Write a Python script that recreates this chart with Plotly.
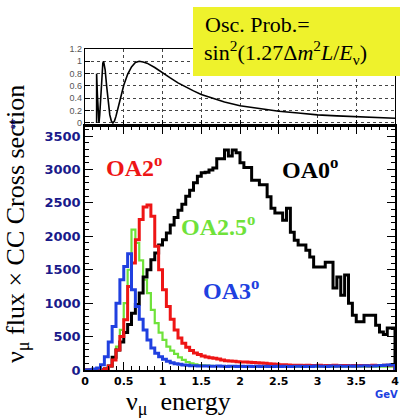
import plotly.graph_objects as go

# ---------------- data ----------------
bin_lo = [round(0.05 * i, 2) for i in range(80)]  # histogram bin lower edges (GeV)
x_max = 4.0

oa0 = [0, 0, 0, 0, 0, 15, 60, 190, 300, 420,
       560, 680, 850, 980, 1150, 1390, 1500, 1650, 1750, 1870,
       1950, 2050, 2170, 2280, 2390, 2480, 2600, 2690, 2800, 2900,
       2950, 2960, 2990, 3020, 3160, 3160, 3290, 3200, 3290, 3250,
       3100, 3030, 3030, 2840, 2840, 2770, 2770, 2590, 2420, 2350,
       2350, 2240, 2420, 2060, 1940, 1870, 1870, 1790, 1690, 1540,
       1540, 1540, 1610, 1610, 1225, 1390, 1120, 1420, 1000, 820,
       720, 720, 820, 820, 820, 670, 570, 530, 630, 630]

oa2 = [0, 0, 0, 0, 5, 20, 60, 150, 300, 500,
       750, 1250, 1600, 1950, 2250, 2440, 2470, 2300, 1850, 1500,
       1200, 950, 760, 600, 480, 400, 340, 290, 255, 230,
       210, 195, 185, 175, 165, 150, 140, 135, 130, 125,
       120, 118, 115, 112, 110, 105, 100, 95, 90, 85,
       80, 78, 75, 72, 70, 72, 68, 70, 66, 68,
       70, 65, 68, 66, 70, 64, 66, 68, 65, 67,
       64, 66, 68, 65, 70, 66, 68, 72, 70, 75]

oa25 = [0, 0, 0, 0, 5, 20, 60, 150, 350, 600,
        1000, 1500, 2100, 1900, 1640, 1350, 1150, 900, 700, 560,
        450, 350, 290, 240, 190, 150, 120, 100, 85, 75,
        68, 65, 62, 60, 58, 56, 55, 54, 54, 53,
        53, 52, 52, 52, 51, 51, 50, 50, 50, 50,
        50, 50, 50, 50, 50, 50, 50, 50, 50, 50,
        50, 50, 50, 50, 50, 50, 50, 50, 50, 50,
        50, 50, 50, 50, 50, 50, 50, 50, 50, 50]

oa3 = [0, 5, 15, 30, 80, 200, 420, 650, 1000, 1350,
       1550, 1740, 1200, 950, 760, 600, 450, 330, 250, 200,
       160, 130, 110, 95, 85, 75, 70, 65, 62, 60,
       58, 60, 57, 55, 58, 56, 54, 57, 55, 53,
       56, 54, 55, 52, 55, 53, 56, 54, 52, 55,
       53, 56, 54, 52, 55, 57, 53, 56, 54, 58,
       55, 57, 54, 58, 56, 60, 57, 55, 59, 57,
       60, 58, 62, 59, 61, 63, 66, 70, 75, 82]

osc_E = [0.150, 0.150, 0.160, 0.170, 0.180, 0.190, 0.200, 0.210, 0.220, 0.230,
         0.240, 0.260, 0.280, 0.300, 0.320, 0.340, 0.360, 0.380, 0.400, 0.450,
         0.500, 0.550, 0.600, 0.650, 0.700, 0.750, 0.800, 0.900, 1.000, 1.100,
         1.200, 1.300, 1.400, 1.500, 1.600, 1.800, 2.000, 2.250, 2.500, 2.750,
         3.000, 3.250, 3.500, 3.750, 4.000]
osc_P = [0.00, 0.80, 0.46, 0.10, 0.00, 0.13, 0.38, 0.64, 0.85, 0.97,
         1.00, 0.86, 0.59, 0.32, 0.13, 0.03, 0.00, 0.03, 0.11, 0.36,
         0.61, 0.79, 0.91, 0.98, 1.00, 0.99, 0.97, 0.90, 0.81, 0.73,
         0.65, 0.58, 0.52, 0.46, 0.42, 0.34, 0.28, 0.23, 0.19, 0.16,
         0.13, 0.115, 0.10, 0.087, 0.077]

x_ticks = [0, 0.5, 1, 1.5, 2, 2.5, 3, 3.5, 4]
x_ticktext = ["0", "0.5", "1", "1.5", "2", "2.5", "3", "3.5", "4"]
y_ticks = [0, 500, 1000, 1500, 2000, 2500, 3000, 3500]
p_ticks = [0, 0.2, 0.4, 0.6, 0.8, 1.0, 1.2]
p_ticktext = ["0", "0.2", "0.4", "0.6", "0.8", "1", "1.2"]

# ---------------- figure ----------------
def step(vals):
    return bin_lo + [x_max], list(vals) + [0]

fig = go.Figure()
series = [
    (oa25, "#6fe23a", 2.2),
    (oa0, "black", 3),
    (oa2, "#ee1515", 3),
    (oa3, "#2040e0", 3),
]
for vals, col, w in series:
    xs, ys = step(vals)
    fig.add_trace(go.Scatter(x=xs, y=ys, mode="lines", line=dict(color=col, width=w, shape="hv"),
                             xaxis="x", yaxis="y", showlegend=False, hoverinfo="skip"))

fig.add_trace(go.Scatter(x=osc_E, y=osc_P, mode="lines", line=dict(color="black", width=1.6),
                         xaxis="x2", yaxis="y2", showlegend=False, hoverinfo="skip"))

split = 244 / 321
tickfont_x = dict(family="DejaVu Sans", size=11, color="black", weight="bold")
tickfont_y = dict(family="DejaVu Sans", size=13, color="#1a1a8a", weight="bold")

fig.update_layout(
    width=400, height=418,
    margin=dict(l=85, r=5, t=49, b=48, autoexpand=False),
    paper_bgcolor="white", plot_bgcolor="white",
    xaxis=dict(domain=[0, 1], range=[0, x_max], anchor="y",
               tickvals=x_ticks, ticktext=x_ticktext, tickfont=tickfont_x,
               ticks="inside", ticklen=8, tickwidth=1, tickcolor="black",
               ticklabelstandoff=0,
               minor=dict(ticks="inside", ticklen=4, dtick=0.1, tickcolor="black", showgrid=False),
               showline=True, linecolor="black", linewidth=1.5, mirror="allticks",
               showgrid=False, zeroline=False),
    yaxis=dict(domain=[0, split], range=[0, 3650], anchor="x",
               tickvals=y_ticks, tickfont=tickfont_y,
               ticks="inside", ticklen=8, tickwidth=1, tickcolor="black",
               minor=dict(ticks="inside", ticklen=4, dtick=100, tickcolor="black", showgrid=False),
               showline=True, linecolor="black", linewidth=1.5, mirror="allticks",
               showgrid=False, zeroline=False),
    xaxis2=dict(domain=[0, 1], range=[0, x_max], anchor="y2", matches="x",
                showticklabels=False, tickvals=x_ticks,
                ticks="inside", ticklen=6, tickcolor="black",
                showline=True, linecolor="black", linewidth=1.2, mirror=True,
                showgrid=True, gridcolor="#444", gridwidth=0.6, griddash="dot", zeroline=False),
    yaxis2=dict(domain=[split, 1], range=[-0.05, 1.2], anchor="x2",
                tickvals=p_ticks, ticktext=p_ticktext,
                tickfont=dict(family="Liberation Sans", size=9, color="#555"),
                ticks="inside", ticklen=5, tickcolor="black",
                showline=True, linecolor="black", linewidth=1.2, mirror=True,
                showgrid=True, gridcolor="#444", gridwidth=0.6, griddash="dot", zeroline=False),
)

def px_x(px):
    return (px - 85) / 310

def px_y(py):
    return (370 - py) / 321

serif = "Liberation Serif"
ann = []
# Oscillation formula box
fig.add_shape(type="rect", xref="paper", yref="paper",
              x0=px_x(193), x1=px_x(402), y0=px_y(76), y1=px_y(7),
              fillcolor="#eef22c", line=dict(width=0), layer="above")
ann.append(dict(text="Osc. Prob.=", x=px_x(203), y=px_y(24), xanchor="left", yanchor="middle",
                font=dict(family=serif, size=22, color="black")))
ann.append(dict(text="sin<sup>2</sup>(1.27Δ<i>m</i><sup>2</sup><i>L</i>/<i>E</i><sub>ν</sub>)",
                x=px_x(202), y=px_y(52), xanchor="left", yanchor="middle",
                font=dict(family=serif, size=22, color="black")))
# series labels
lab_font = lambda c: dict(family=serif, size=24, color=c, weight="bold")
ann.append(dict(text="OA0<sup>o</sup>", x=px_x(310), y=px_y(168), font=lab_font("black")))
ann.append(dict(text="OA2<sup>o</sup>", x=px_x(134), y=px_y(166), font=lab_font("#ee1515")))
ann.append(dict(text="OA2.5<sup>o</sup>", x=px_x(218), y=px_y(225), font=lab_font("#6fe23a")))
ann.append(dict(text="OA3<sup>o</sup>", x=px_x(231), y=px_y(289), font=lab_font("#2040e0")))
# axis titles
ann.append(dict(text="ν<sub>μ</sub> flux × CC Cross section", x=px_x(17), y=px_y(224),
                textangle=-90, font=dict(family=serif, size=26, color="black")))
ann.append(dict(text="au", x=px_x(12), y=px_y(125), textangle=-90,
                font=dict(family="Liberation Sans", size=8, color="#1a1a8a", weight="bold")))
ann.append(dict(text="ν<sub>μ</sub>\u00a0\u00a0energy", x=px_x(124), y=px_y(403),
                xanchor="left", yanchor="middle",
                font=dict(family=serif, size=26, color="black")))
ann.append(dict(text="GeV", x=px_x(386), y=px_y(395),
                font=dict(family="DejaVu Sans", size=10, color="#2040e0", weight="bold")))

for a in ann:
    a.setdefault("xanchor", "center")
    a.setdefault("yanchor", "middle")
    a.update(xref="paper", yref="paper", showarrow=False)
fig.update_layout(annotations=ann)

fig.write_html("out.html", config={"displayModeBar": False},
               post_script="document.body.style.margin='0px';document.body.style.overflow='hidden';")
